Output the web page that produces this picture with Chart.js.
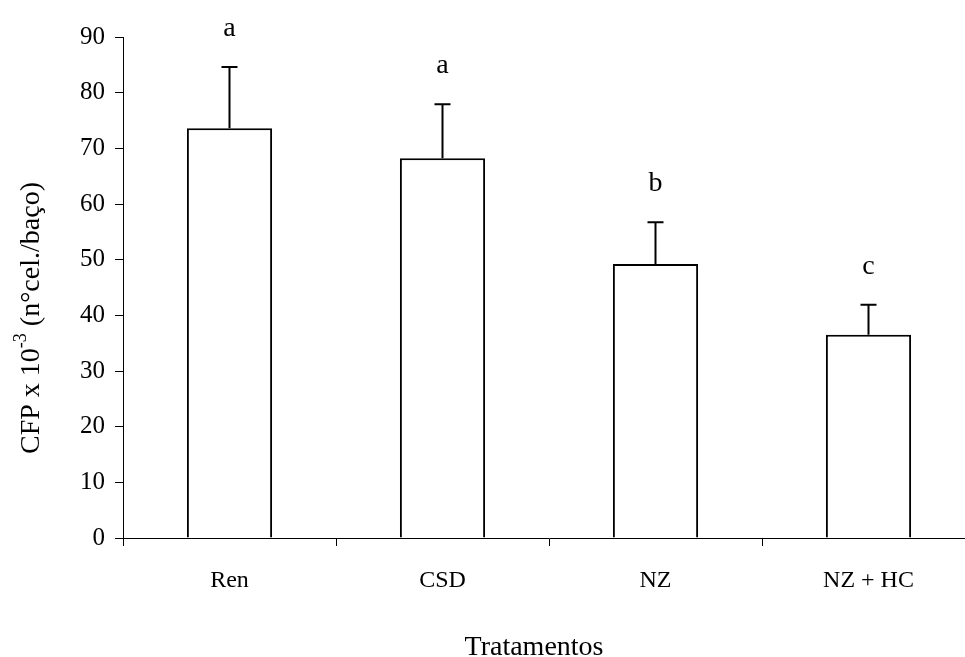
<!DOCTYPE html>
<html lang="pt-br">
<head>
<meta charset="UTF-8">
<title>CFP por tratamento</title>
<script src="https://cdn.jsdelivr.net/npm/chart.js"></script>
<style>
    html, body { margin: 0; padding: 0; overflow: hidden; background: #fff; }
    canvas { display: block; }
</style>
</head>
<body>
<canvas id="chart" width="975" height="657"></canvas>
<script>
// Dados do gráfico
var tratamentos = ['Ren', 'CSD', 'NZ', 'NZ + HC'];
var medias = [73.6, 68.2, 49.2, 36.5];
var desvios = [11.0, 9.7, 7.5, 5.4];
var letras = ['a', 'a', 'b', 'c'];
var marcasY = [0, 10, 20, 30, 40, 50, 60, 70, 80, 90];

var fonte = '"Liberation Serif", "Times New Roman", serif';

// Barras de erro (só para cima) e letras de significância
var barrasErro = {
    id: 'barrasErro',
    afterDatasetsDraw: function(chart) {
        var ctx = chart.ctx;
        var y = chart.scales.y;
        var meta = chart.getDatasetMeta(0);
        ctx.save();
        ctx.strokeStyle = '#000';
        ctx.fillStyle = '#000';
        ctx.lineWidth = 2;
        ctx.font = '28px ' + fonte;
        ctx.textAlign = 'center';
        ctx.textBaseline = 'alphabetic';
        meta.data.forEach(function(barra, i) {
            var topo = y.getPixelForValue(medias[i]);
            var fim = y.getPixelForValue(medias[i] + desvios[i]);
            ctx.beginPath();
            ctx.moveTo(barra.x, topo);
            ctx.lineTo(barra.x, fim);
            ctx.moveTo(barra.x - 8, fim);
            ctx.lineTo(barra.x + 8, fim);
            ctx.stroke();
            ctx.fillText(letras[i], barra.x, fim - 31);
        });
        ctx.restore();
    }
};

// Títulos dos eixos (o do eixo y leva expoente)
var titulos = {
    id: 'titulos',
    afterDraw: function(chart) {
        var ctx = chart.ctx;
        ctx.save();
        ctx.fillStyle = '#000';
        ctx.textBaseline = 'alphabetic';

        ctx.font = '28px ' + fonte;
        ctx.textAlign = 'center';
        ctx.fillText('Tratamentos', 534, 655);

        var partes = [
            { t: 'CFP x 10', f: '28px ' + fonte, dy: 0 },
            { t: '-3', f: '18px ' + fonte, dy: -13 },
            { t: ' (n\u00b0cel./ba\u00e7o)', f: '28px ' + fonte, dy: 0 }
        ];
        var total = 0;
        partes.forEach(function(p) {
            ctx.font = p.f;
            p.w = ctx.measureText(p.t).width;
            total += p.w;
        });
        ctx.translate(39, 318);
        ctx.rotate(-Math.PI / 2);
        ctx.textAlign = 'left';
        var x = -total / 2;
        partes.forEach(function(p) {
            ctx.font = p.f;
            ctx.fillText(p.t, x, p.dy);
            x += p.w;
        });
        ctx.restore();
    }
};

var ctx = document.getElementById('chart').getContext('2d');
var chart = new Chart(ctx, {
    type: 'bar',
    data: {
        labels: tratamentos,
        datasets: [{
            data: medias,
            backgroundColor: '#fff',
            borderColor: '#000',
            borderWidth: 2,
            barPercentage: 0.4,
            categoryPercentage: 1.0
        }]
    },
    options: {
        responsive: false,
        animation: false,
        layout: { padding: { top: 37, left: 0, right: 0, bottom: 0 } },
        plugins: {
            legend: { display: false },
            tooltip: { enabled: false }
        },
        scales: {
            x: {
                grid: {
                    display: true,
                    drawOnChartArea: false,
                    offset: true,
                    tickLength: 8,
                    color: '#000'
                },
                border: { color: '#000', width: 1 },
                ticks: {
                    color: '#000',
                    font: { family: fonte, size: 24 },
                    padding: 20,
                    maxRotation: 0
                },
                afterFit: function(scale) { scale.height = 119; }
            },
            y: {
                min: 0,
                max: 90,
                grid: {
                    display: true,
                    drawOnChartArea: false,
                    tickLength: 8,
                    color: '#000'
                },
                border: { color: '#000', width: 1 },
                ticks: {
                    color: '#000',
                    font: { family: fonte, size: 25 },
                    padding: 10
                },
                afterBuildTicks: function(scale) {
                    scale.ticks = marcasY.map(function(v) { return { value: v }; });
                },
                afterFit: function(scale) { scale.width = 123; }
            }
        }
    },
    plugins: [barrasErro, titulos]
});
</script>
</body>
</html>
